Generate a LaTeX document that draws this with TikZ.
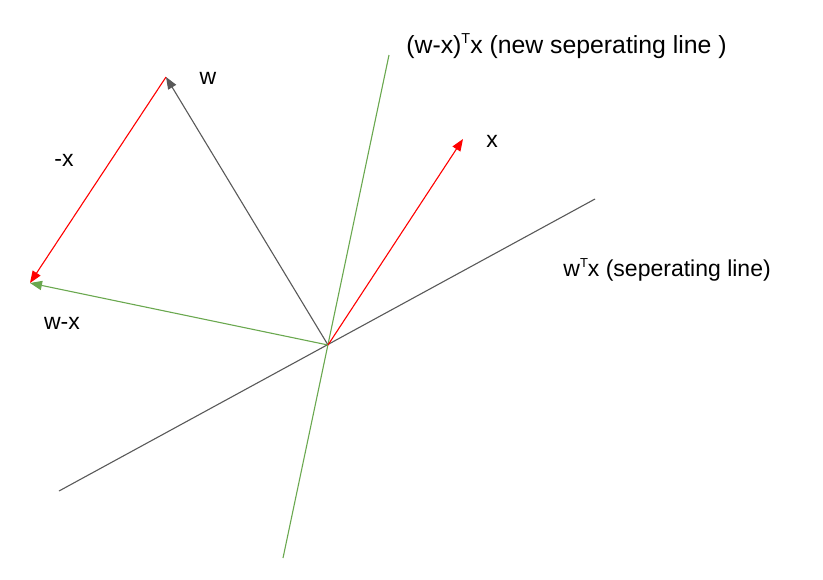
\documentclass[tikz,border=0pt]{standalone}
\usepackage{fontspec}
\setmainfont{Liberation Sans}
\usetikzlibrary{arrows.meta}
\definecolor{linegray}{HTML}{595959}
\definecolor{vecred}{HTML}{FF0000}
\definecolor{vecgreen}{HTML}{6AA84F}
\newcommand{\supT}[1][6.5]{\raisebox{0.75ex}{\fontsize{#1}{#1}\selectfont T}}
\begin{document}
\begin{tikzpicture}[x=0.5pt,y=-0.5pt,
		vec/.style={line width=0.55pt,-{Triangle[length=6pt,width=4.6pt]}},
		sepline/.style={line width=0.55pt},
		lbl/.style={font=\fontsize{11.5}{14}\selectfont,inner sep=0pt}]
		\useasboundingbox (0,0) rectangle (823,579);
%		\draw[help lines,step=50] (0,0) grid (823,579);
		\path (328,345) coordinate (origin);
		\path (166,77) coordinate (w);
		\path (30,283) coordinate (wminusx);
		\path (463,139) coordinate (x);
		\path (59,491) coordinate (sep_left);
		\path (595,199) coordinate (sep_right);
		\path (283,558) coordinate (new_bottom);
		\path (389,55) coordinate (new_top);

		\draw[sepline,linegray] (sep_left) -- (sep_right);
		\draw[sepline,vecgreen] (new_bottom) -- (new_top);
		\draw[vec,linegray] (origin) -- (w);
		\draw[vec,vecred] (w) -- (wminusx);
		\draw[vec,vecgreen] (origin) -- (wminusx);
		\draw[vec,vecred] (origin) -- (x);

		\node[lbl] (wtext) at (208,78) {w};
		\node[lbl] (minusxtext) at (64,160) {-x};
		\node[lbl] (wminusxtext) at (62,323) {w-x};
		\node[lbl] (xtext) at (492,141) {x};
		\node[lbl,anchor=west] (septext) at (563,270) {w\supT x (seperating line)};
		\node[lbl,anchor=west,font=\fontsize{12.4}{15}\selectfont] (newtext) at (406,46) {(w-x)\supT[7.2]x (new seperating line )};
	\end{tikzpicture}
\end{document}
